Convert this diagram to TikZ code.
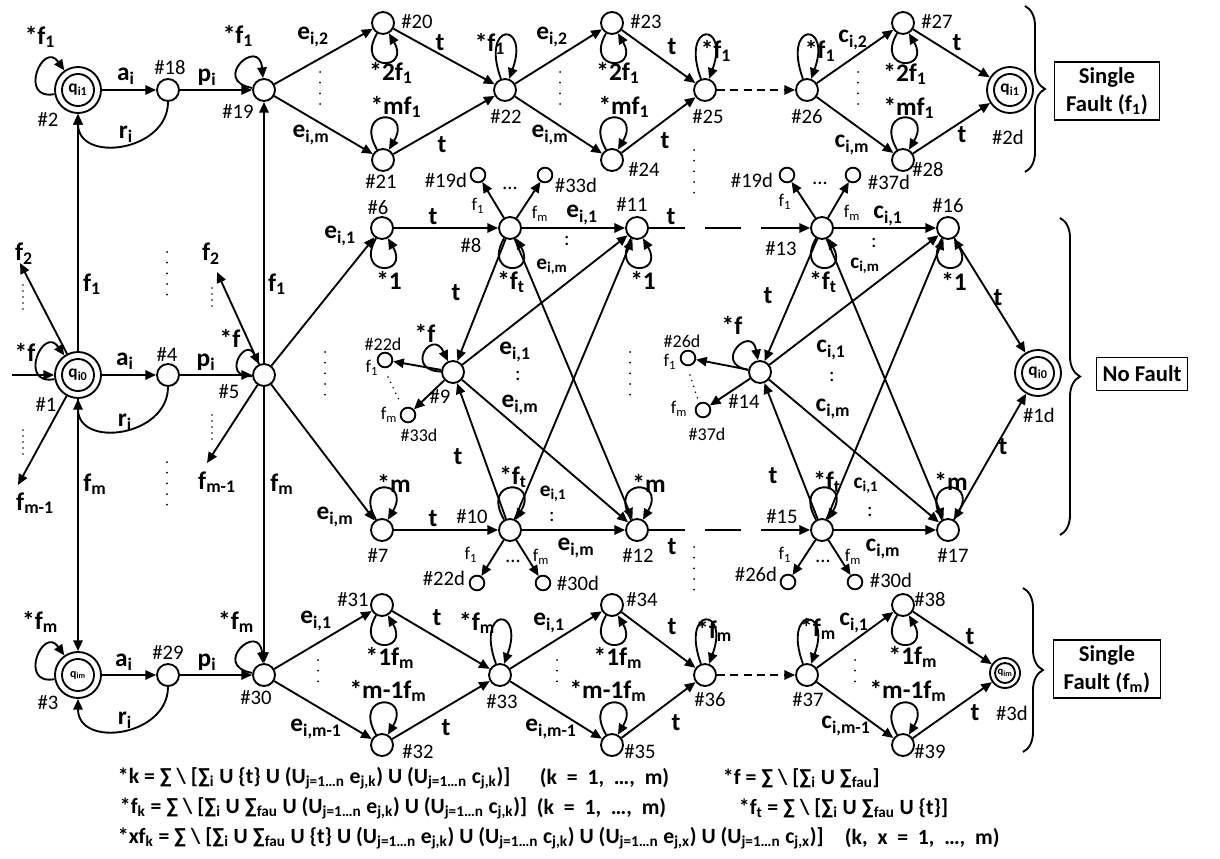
\documentclass[tikz,border=0pt]{standalone}
\usepackage{fontspec}
\setmainfont{Carlito}
\usetikzlibrary{arrows.meta,decorations.pathreplacing}
\newcommand\subs[1]{\textsubscript{#1}}
\newcommand\Un{U\subs{j=1…n}}
\newcommand\wide{\spaceskip=0.45em\relax}

\begin{document}
\begin{tikzpicture}[x=0.75pt,y=0.75pt,line width=1.4pt,
  st/.style={circle,draw,minimum size=16.5pt,inner sep=0pt},
  dst/.style={circle,draw,minimum size=11pt,inner sep=0pt},
  acc/.style={circle,draw,minimum size=34.5pt,inner sep=0pt,font=\fontsize{13}{13}\selectfont\bfseries,
    path picture={\draw (path picture bounding box.center) circle (12pt);}},
  accs/.style={circle,draw,minimum size=22.5pt,inner sep=0pt,font=\fontsize{8}{8}\selectfont\bfseries,
    path picture={\draw (path picture bounding box.center) circle (7.5pt);}},
  lb/.style={font=\fontsize{19}{21}\selectfont\bfseries,inner sep=0pt},
  lbs/.style={font=\fontsize{16}{18}\selectfont\bfseries,inner sep=0pt},
  snum/.style={font=\fontsize{15.5}{17}\selectfont,inner sep=0pt},
  snums/.style={font=\fontsize{13.5}{15}\selectfont,inner sep=0pt},
  fx/.style={font=\fontsize{16.3}{18}\selectfont\bfseries,inner sep=0pt,anchor=west},
  gbox/.style={draw,line width=1pt,align=center,inner sep=0pt,font=\fontsize{17}{21}\selectfont\bfseries},
  tr/.style={-{Triangle[length=8pt,width=7pt]}},
  ldash/.style={dash pattern=on 27pt off 15pt on 27pt off 15pt on 40pt off 15pt},
  sdash/.style={dash pattern=on 6pt off 4pt},
  vd/.style={line width=1.5pt,line cap=round,dash pattern=on 0pt off 8pt},
  vds/.style={line width=1.3pt,line cap=round,dash pattern=on 0pt off 4.5pt},
  lpa/.style={out=120,in=60,distance=36pt},
  lpb/.style={out=240,in=300,distance=33pt},
  lpt/.style={out=110,in=70,distance=46pt},
  lpl/.style={out=190,in=125,distance=28pt}]
\useasboundingbox (0,0) rectangle (1220,-859);

% states, single fault f1
\node[acc] (n2) at (78,-90) {q\subs{i1}};
\node[st] (n18) at (168,-90) {};
\node[st] (n19) at (264,-90) {};
\node[st] (n20) at (383,-23) {};
\node[st] (n21) at (383,-160) {};
\node[st] (n22) at (505,-90) {};
\node[st] (n23) at (612,-23) {};
\node[st] (n24) at (612,-160) {};
\node[st] (n25) at (705,-90) {};
\node[st] (n26) at (807,-90) {};
\node[st] (n27) at (903,-23) {};
\node[st] (n28) at (903,-160) {};
\node[acc] (n2d) at (1010,-90) {q\subs{i1}};

% states, no fault
\node[acc] (n1) at (78,-375) {q\subs{i0}};
\node[st] (n4) at (168,-375) {};
\node[st] (n5) at (264,-375) {};
\node[st] (n6) at (382,-228) {};
\node[st] (n8) at (510,-228) {};
\node[st] (n11) at (637,-228) {};
\node[st] (n9) at (453,-372) {};
\node[st] (n7) at (382,-530) {};
\node[st] (n10) at (510,-530) {};
\node[st] (n12) at (637,-530) {};
\node[st] (n13) at (822,-228) {};
\node[st] (n16) at (948,-228) {};
\node[st] (n14) at (760,-372) {};
\node[st] (n15) at (822,-530) {};
\node[st] (n17) at (948,-530) {};
\node[acc] (n1d) at (1038,-373) {q\subs{i0}};
\node[dst] (d19a) at (478,-175) {};
\node[dst] (d33a) at (545,-175) {};
\node[dst] (d22a) at (385,-360) {};
\node[dst] (d33b) at (408,-415) {};
\node[dst] (d22b) at (477,-583) {};
\node[dst] (d30a) at (543,-583) {};
\node[dst] (d19b) at (787,-175) {};
\node[dst] (d37a) at (853,-175) {};
\node[dst] (d26a) at (688,-358) {};
\node[dst] (d37b) at (703,-410) {};
\node[dst] (d26b) at (788,-582) {};
\node[dst] (d30b) at (855,-582) {};

% states, single fault fm
\node[acc,font=\fontsize{9}{9}\selectfont\bfseries] (n3) at (78,-675) {q\subs{im}};
\node[st] (n29) at (168,-675) {};
\node[st] (n30) at (264,-675) {};
\node[st] (n31) at (382,-605) {};
\node[st] (n32) at (382,-745) {};
\node[st] (n33) at (500,-675) {};
\node[st] (n34) at (612,-605) {};
\node[st] (n35) at (612,-745) {};
\node[st] (n36) at (705,-675) {};
\node[st] (n37) at (807,-675) {};
\node[st] (n38) at (903,-605) {};
\node[st] (n39) at (903,-745) {};
\node[accs] (n3d) at (1005,-673) {q\subs{im}};

\coordinate (in1) at (12,-375);
\coordinate (a1f2) at (20,-263);
\coordinate (a1fm) at (18,-485);
\coordinate (a5f2) at (217,-272);
\coordinate (a5fm) at (207,-463);

% transitions
\draw[tr] (in1) -- (n1);
\draw[tr] (n1) -- (n2);
\draw[tr] (n1) -- (n3);
\draw[tr] (n1) -- (a1f2);
\draw[tr] (n1) -- (a1fm);
\draw[tr] (n5) -- (n19);
\draw[tr] (n5) -- (n30);
\draw[tr] (n5) -- (a5f2);
\draw[tr] (n5) -- (a5fm);

\draw[tr] (n2) -- (n18);
\draw[tr] (n18) -- (n19);
\draw[tr] (n18.south) to[out=-90,in=-90,looseness=1.4] (n2.south);
\draw[tr] (n19) -- (n20);
\draw[tr] (n19) -- (n21);
\draw[tr] (n20) -- (n22);
\draw[tr] (n21) -- (n22);
\draw[tr] (n22) -- (n23);
\draw[tr] (n22) -- (n24);
\draw[tr] (n23) -- (n25);
\draw[tr] (n24) -- (n25);
\draw[tr,sdash] (n25) -- (n26);
\draw[tr] (n26) -- (n27);
\draw[tr] (n26) -- (n28);
\draw[tr] (n27) -- (n2d);
\draw[tr] (n28) -- (n2d);

\draw[tr] (n1) -- (n4);
\draw[tr] (n4) -- (n5);
\draw[tr] (n4.south) to[out=-90,in=-90,looseness=1.4] (n1.south);
\draw[tr] (n5) -- (n6);
\draw[tr] (n5) -- (n7);
\draw[tr] (n6) -- (n8);
\draw[tr] (n8) -- (n11);
\draw[tr] (n8) -- (n12);
\draw[tr] (n8) -- (n9);
\draw[tr] (n8) -- (d19a);
\draw[tr] (n8) -- (d33a);
\draw[tr] (n9) -- (n11);
\draw[tr] (n9) -- (n12);
\draw[tr] (n9) -- (d22a);
\draw[tr] (n9) -- (d33b);
\draw[tr] (n7) -- (n10);
\draw[tr] (n10) -- (n12);
\draw[tr] (n10) -- (n11);
\draw[tr] (n10) -- (n9);
\draw[tr] (n10) -- (d22b);
\draw[tr] (n10) -- (d30a);
\draw[tr,ldash] (n11) -- (n13);
\draw[tr,ldash] (n12) -- (n15);
\draw[tr] (n13) -- (n16);
\draw[tr] (n13) -- (n17);
\draw[tr] (n13) -- (n14);
\draw[tr] (n13) -- (d19b);
\draw[tr] (n13) -- (d37a);
\draw[tr] (n14) -- (n16);
\draw[tr] (n14) -- (n17);
\draw[tr] (n14) -- (d26a);
\draw[tr] (n14) -- (d37b);
\draw[tr] (n15) -- (n17);
\draw[tr] (n15) -- (n16);
\draw[tr] (n15) -- (n14);
\draw[tr] (n15) -- (d26b);
\draw[tr] (n15) -- (d30b);
\draw[tr] (n16) -- (n1d);
\draw[tr] (n17) -- (n1d);

\draw[tr] (n3) -- (n29);
\draw[tr] (n29) -- (n30);
\draw[tr] (n29.south) to[out=-90,in=-90,looseness=1.4] (n3.south);
\draw[tr] (n30) -- (n31);
\draw[tr] (n30) -- (n32);
\draw[tr] (n31) -- (n33);
\draw[tr] (n32) -- (n33);
\draw[tr] (n33) -- (n34);
\draw[tr] (n33) -- (n35);
\draw[tr] (n34) -- (n36);
\draw[tr] (n35) -- (n36);
\draw[tr,sdash] (n36) -- (n37);
\draw[tr] (n37) -- (n38);
\draw[tr] (n37) -- (n39);
\draw[tr] (n38) -- (n3d);
\draw[tr] (n39) -- (n3d);

% self loops
\draw[tr] (n2) to[lpl] (n2);
\draw[tr] (n1) to[lpl] (n1);
\draw[tr] (n3) to[lpl] (n3);
\draw[tr] (n19) to[out=170,in=95,distance=32pt] (n19);
\draw[tr] (n5) to[out=185,in=115,distance=24pt] (n5);
\draw[tr] (n30) to[out=170,in=95,distance=32pt] (n30);
\draw[tr] (n9) to[out=178,in=115,distance=28pt] (n9);
\draw[tr] (n14) to[out=170,in=100,distance=28pt] (n14);
\foreach \s in {n20,n23,n27,n31,n34,n38,n6,n8,n11,n13,n16}
  \draw[tr] (\s) to[lpb] (\s);
\foreach \s in {n21,n24,n28,n32,n35,n39,n7,n10,n12,n15,n17}
  \draw[tr] (\s) to[lpa] (\s);
\foreach \s in {n22,n25,n26,n33,n36,n37}
  \draw[tr] (\s) to[lpt] (\s);

% state numbers
\node[snum] (t2) at (48,-120) {\#2};
\node[snum] (t18) at (170,-68) {\#18};
\node[snum] (t19) at (238,-112) {\#19};
\node[snum] (t20) at (417,-22) {\#20};
\node[snum] (t21) at (381,-182) {\#21};
\node[snum] (t22) at (506,-117) {\#22};
\node[snum] (t23) at (646,-22) {\#23};
\node[snum] (t24) at (644,-170) {\#24};
\node[snum] (t25) at (708,-117) {\#25};
\node[snum] (t26) at (807,-117) {\#26};
\node[snum] (t27) at (937,-22) {\#27};
\node[snum] (t28) at (928,-170) {\#28};
\node[snum] (t2d) at (1008,-137) {\#2d};
\node[snum] (t1) at (46,-405) {\#1};
\node[snum] (t4) at (167,-355) {\#4};
\node[snum] (t5) at (229,-392) {\#5};
\node[snum] (t6) at (378,-208) {\#6};
\node[snum] (t8) at (471,-246) {\#8};
\node[snum] (t11) at (632,-205) {\#11};
\node[snum] (t9) at (440,-397) {\#9};
\node[snum] (t7) at (378,-556) {\#7};
\node[snum] (t10) at (472,-517) {\#10};
\node[snum] (t12) at (638,-556) {\#12};
\node[snum] (t13) at (781,-249) {\#13};
\node[snum] (t16) at (948,-206) {\#16};
\node[snum] (t14) at (744,-402) {\#14};
\node[snum] (t15) at (782,-517) {\#15};
\node[snum] (t17) at (953,-556) {\#17};
\node[snum] (t1d) at (1039,-415) {\#1d};
\node[snum] (t19a) at (446,-180) {\#19d};
\node[snum] (t33a) at (576,-185) {\#33d};
\node[snums] (t22a) at (383,-344) {\#22d};
\node[snums] (t33b) at (419,-435) {\#33d};
\node[snum] (t22b) at (444,-578) {\#22d};
\node[snum] (t30a) at (578,-583) {\#30d};
\node[snum] (t19b) at (752,-180) {\#19d};
\node[snum] (t37a) at (889,-182) {\#37d};
\node[snums] (t26a) at (682,-341) {\#26d};
\node[snums] (t37b) at (707,-434) {\#37d};
\node[snum] (t26b) at (756,-574) {\#26d};
\node[snum] (t30b) at (891,-580) {\#30d};
\node[snum] (t3) at (48,-703) {\#3};
\node[snum] (t29) at (168,-653) {\#29};
\node[snum] (t30) at (256,-698) {\#30};
\node[snum] (t31) at (353,-600) {\#31};
\node[snum] (t32) at (418,-752) {\#32};
\node[snum] (t33) at (502,-702) {\#33};
\node[snum] (t34) at (642,-600) {\#34};
\node[snum] (t35) at (640,-752) {\#35};
\node[snum] (t36) at (710,-700) {\#36};
\node[snum] (t37) at (808,-700) {\#37};
\node[snum] (t38) at (930,-600) {\#38};
\node[snum] (t39) at (930,-752) {\#39};
\node[snum] (t3d) at (1012,-713) {\#3d};

% transition labels, top
\node[lb] (l2) at (40,-37) {*f\subs{1}};
\node[lb] (la1) at (126,-76) {a\subs{i}};
\node[lb] (lr1) at (126,-134) {r\subs{i}};
\node[lb] (lp1) at (207,-77) {p\subs{i}};
\node[lb] (l19) at (238,-36) {*f\subs{1}};
\node[lb] (le1) at (313,-37) {e\subs{i,2}};
\node[lb] (le2) at (311,-135) {e\subs{i,m}};
\node[lb] (l20) at (391,-73) {*2f\subs{1}};
\node[lb] (l21) at (396,-107) {*mf\subs{1}};
\node[lb] (lt1) at (440,-43) {t};
\node[lb] (lt2) at (442,-145) {t};
\node[lb] (l22) at (490,-44) {*f\subs{1}};
\node[lb] (le3) at (552,-37) {e\subs{i,2}};
\node[lb] (le4) at (550,-135) {e\subs{i,m}};
\node[lb] (l23) at (618,-73) {*2f\subs{1}};
\node[lb] (l24) at (624,-107) {*mf\subs{1}};
\node[lb] (lt3) at (672,-47) {t};
\node[lb] (lt4) at (665,-141) {t};
\node[lb] (l25) at (716,-51) {*f\subs{1}};
\node[lb] (l26) at (820,-51) {*f\subs{1}};
\node[lb] (lc1) at (853,-40) {c\subs{i,2}};
\node[lb] (lc2) at (852,-145) {c\subs{i,m}};
\node[lb] (l27) at (905,-74) {*2f\subs{1}};
\node[lb] (l28) at (909,-108) {*mf\subs{1}};
\node[lb] (lt5) at (957,-43) {t};
\node[lb] (lt6) at (962,-135) {t};

% transition labels, middle
\node[lb] (l1) at (25,-352) {*f};
\node[lb] (lf2a) at (24,-254) {f\subs{2}};
\node[lb] (lf1a) at (92,-284) {f\subs{1}};
\node[lb] (lfma) at (95,-484) {f\subs{m}};
\node[lb] (lfna) at (35,-503) {f\subs{m-1}};
\node[lb] (la2) at (125,-361) {a\subs{i}};
\node[lb] (lp2) at (206,-362) {p\subs{i}};
\node[lb] (lr2) at (125,-422) {r\subs{i}};
\node[lb] (l5) at (230,-338) {*f};
\node[lb] (lf2b) at (211,-254) {f\subs{2}};
\node[lb] (lf1b) at (277,-284) {f\subs{1}};
\node[lb] (lfnb) at (217,-482) {f\subs{m-1}};
\node[lb] (lfmb) at (282,-484) {f\subs{m}};
\node[lb] (le5) at (340,-236) {e\subs{i,1}};
\node[lb] (le6) at (335,-517) {e\subs{i,m}};
\node[lb] (l6) at (389,-280) {*1};
\node[lb] (lt7) at (433,-217) {t};
\node[lb] (l8) at (511,-282) {*f\subs{t}};
\node[snums] (lf1c) at (478,-206) {f\subs{1}};
\node[snums] (lfmc) at (540,-214) {f\subs{m}};
\node[snum] (ld1) at (510,-188) {…};
\node[lb] (le7) at (582,-215) {e\subs{i,1}};
\node[snum] (lc3) at (567,-241) {:};
\node[lbs] (le8) at (552,-267) {e\subs{i,m}};
\node[lb] (l11) at (643,-280) {*1};
\node[lb] (lt8) at (671,-217) {t};
\node[lb] (lt9) at (456,-293) {t};
\node[lb] (l9) at (425,-333) {*f};
\node[snums] (lf1d) at (372,-368) {f\subs{1}};
\node[snums] (lfmd) at (389,-415) {f\subs{m}};
\node[lb] (le9) at (515,-352) {e\subs{i,1}};
\node[snum] (lc4) at (518,-376) {:};
\node[lb] (le10) at (520,-405) {e\subs{i,m}};
\node[lb] (lt10) at (458,-457) {t};
\node[lb] (l7) at (394,-483) {*m};
\node[lb] (lt11) at (433,-519) {t};
\node[lb] (l10) at (513,-477) {*f\subs{t}};
\node[lbs] (le11) at (553,-494) {e\subs{i,1}};
\node[snum] (lc5) at (552,-517) {:};
\node[snums] (lf1e) at (471,-555) {f\subs{1}};
\node[snums] (lfme) at (541,-557) {f\subs{m}};
\node[snum] (ld2) at (513,-561) {…};
\node[lb] (le12) at (576,-548) {e\subs{i,m}};
\node[lb] (l12) at (649,-483) {*m};
\node[lb] (lt12) at (672,-547) {t};
\node[lb] (lt13) at (768,-296) {t};
\node[lb] (l13) at (823,-282) {*f\subs{t}};
\node[snums] (lf1f) at (785,-202) {f\subs{1}};
\node[snums] (lfmf) at (852,-213) {f\subs{m}};
\node[snum] (ld3) at (820,-183) {…};
\node[lb] (lc6) at (888,-216) {c\subs{i,1}};
\node[snum] (lc7) at (874,-243) {:};
\node[lbs] (lc8) at (865,-266) {c\subs{i,m}};
\node[lb] (l16) at (954,-281) {*1};
\node[lb] (lt14) at (998,-298) {t};
\node[lb] (l14) at (732,-325) {*f};
\node[snums] (lf1g) at (670,-362) {f\subs{1}};
\node[snums] (lfmg) at (679,-409) {f\subs{m}};
\node[lb] (lc9) at (831,-350) {c\subs{i,1}};
\node[snum] (lc10) at (832,-377) {:};
\node[lb] (lc11) at (833,-409) {c\subs{i,m}};
\node[lb] (lt15) at (773,-476) {t};
\node[lb] (l15) at (827,-482) {*f\subs{t}};
\node[lbs] (lc12) at (866,-486) {c\subs{i,1}};
\node[snum] (lc13) at (870,-512) {:};
\node[snums] (lf1h) at (785,-555) {f\subs{1}};
\node[snums] (lfmh) at (853,-557) {f\subs{m}};
\node[snum] (ld4) at (823,-561) {…};
\node[lb] (lc14) at (883,-549) {c\subs{i,m}};
\node[lb] (l17) at (951,-481) {*m};
\node[lb] (lt16) at (1003,-447) {t};

% transition labels, bottom
\node[lb] (l3) at (40,-622) {*f\subs{m}};
\node[lb] (la3) at (124,-662) {a\subs{i}};
\node[lb] (lp3) at (207,-662) {p\subs{i}};
\node[lb] (lr3) at (125,-720) {r\subs{i}};
\node[lb] (l30) at (236,-622) {*f\subs{m}};
\node[lb] (le13) at (316,-621) {e\subs{i,1}};
\node[lb] (le14) at (316,-729) {e\subs{i,m-1}};
\node[lb] (l31) at (390,-658) {*1f\subs{m}};
\node[lb] (l32) at (388,-691) {*m-1f\subs{m}};
\node[lb] (lt17) at (437,-618) {t};
\node[lb] (lt18) at (446,-728) {t};
\node[lb] (l33) at (477,-623) {*f\subs{m}};
\node[lb] (le15) at (549,-623) {e\subs{i,1}};
\node[lb] (le16) at (551,-729) {e\subs{i,m-1}};
\node[lb] (l34) at (618,-658) {*1f\subs{m}};
\node[lb] (l35) at (608,-691) {*m-1f\subs{m}};
\node[lb] (lt19) at (672,-627) {t};
\node[lb] (lt20) at (676,-723) {t};
\node[lb] (l36) at (714,-631) {*f\subs{m}};
\node[lb] (l37) at (818,-629) {*f\subs{m}};
\node[lb] (lc15) at (854,-623) {c\subs{i,1}};
\node[lb] (lc16) at (846,-726) {c\subs{i,m-1}};
\node[lb] (l38) at (913,-657) {*1f\subs{m}};
\node[lb] (l39) at (908,-691) {*m-1f\subs{m}};
\node[lb] (lt21) at (970,-637) {t};
\node[lb] (lt22) at (975,-713) {t};

% dots
\draw[vd] (320,-72) -- (320,-108);
\draw[vd] (560,-72) -- (560,-108);
\draw[vd] (858,-72) -- (858,-108);
\draw[vd] (318,-660) -- (318,-690);
\draw[vd] (557,-660) -- (557,-690);
\draw[vd] (855,-660) -- (855,-690);
\draw[vd] (694,-150) -- (694,-200);
\draw[vd] (694,-547) -- (694,-598);
\draw[vd] (325,-352) -- (325,-400);
\draw[vd] (630,-352) -- (630,-400);
\draw[vd] (167,-252) -- (167,-300);
\draw[vd] (167,-462) -- (167,-512);
\draw[vds] (23,-285) -- (23,-310);
\draw[vds] (23,-430) -- (23,-455);
\draw[vds] (212,-288) -- (212,-312);
\draw[vds] (212,-415) -- (212,-440);
\draw[vds] (388,-377) -- (400,-402);
\draw[vds] (690,-375) -- (698,-400);

% groups
\draw[decorate,decoration={brace,amplitude=15pt}] (1025,-6) -- (1025,-172);
\draw[decorate,decoration={brace,amplitude=15pt}] (1060,-218) -- (1060,-535);
\draw[decorate,decoration={brace,amplitude=15pt}] (1023,-588) -- (1023,-752);
\node[gbox,minimum width=79pt,minimum height=43.5pt] (bf1) at (1107,-91) {Single\\Fault (f\subs{1})};
\node[gbox,minimum width=68pt,minimum height=24.5pt] (bnf) at (1142,-374) {No Fault};
\node[gbox,minimum width=80pt,minimum height=43.5pt] (bfm) at (1107,-669) {Single\\Fault (f\subs{m})};

% definitions
\node[fx] (dk) at (117,-778) {*k = ∑ \textbackslash{} [∑\subs{i} U \{t\} U (\Un{} e\subs{j,k}) U (\Un{} c\subs{j,k})]};
\node[fx] (dk1) at (539,-778) {\wide (k = 1, …, m)};
\node[fx] (df) at (722,-778) {*f = ∑ \textbackslash{} [∑\subs{i} U ∑\subs{fau}]};
\node[fx] (dfk) at (119,-808) {*f\subs{k} = ∑ \textbackslash{} [∑\subs{i} U ∑\subs{fau} U (\Un{} e\subs{j,k}) U (\Un{} c\subs{j,k})]};
\node[fx] (dk2) at (536,-808) {\wide (k = 1, …, m)};
\node[fx] (dft) at (738,-808) {*f\subs{t} = ∑ \textbackslash{} [∑\subs{i} U ∑\subs{fau} U \{t\}]};
\node[fx] (dxf) at (117,-838) {*xf\subs{k} = ∑ \textbackslash{} [∑\subs{i} U ∑\subs{fau} U \{t\} U (\Un{} e\subs{j,k}) U (\Un{} c\subs{j,k}) U (\Un{} e\subs{j,x}) U (\Un{} c\subs{j,x})]};
\node[fx] (dkx) at (844,-838) {\wide (k, x = 1, …, m)};
\end{tikzpicture}
\end{document}
